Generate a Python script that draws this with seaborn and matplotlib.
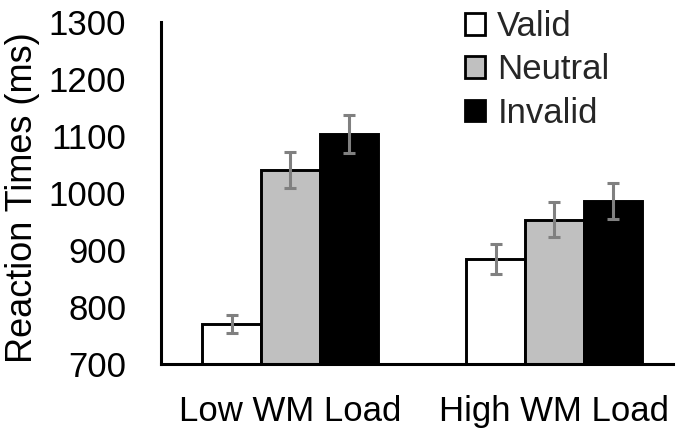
import pandas as pd
import matplotlib
matplotlib.use('Agg')
import matplotlib.pyplot as plt
from matplotlib.patches import Patch
import seaborn as sns

loads = ['Low WM Load', 'High WM Load']
cues = ['Valid', 'Neutral', 'Invalid']
rt_low = [770, 1040, 1103]
rt_high = [884, 953, 986]
se_low = [16, 32, 33]
se_high = [26, 31, 32]
cue_colors = ['#FFFFFF', '#C0C0C0', '#000000']

df = pd.DataFrame({
    'load': [loads[0]] * 3 + [loads[1]] * 3,
    'cue': cues * 2,
    'rt': rt_low + rt_high,
    'se': se_low + se_high,
})

sns.set_theme(style='white')
plt.rcParams['font.family'] = ['Liberation Sans', 'DejaVu Sans']
fs = 25

fig = plt.figure(figsize=(6.96, 4.40), dpi=100)
ax = fig.add_axes([161 / 696, 1 - 364 / 440, (673 - 161) / 696, (364 - 22) / 440])

palette = dict(zip(cues, cue_colors))
sns.barplot(data=df, x='load', y='rt', hue='cue', order=loads, hue_order=cues,
            palette=palette, edgecolor='black', linewidth=2.1, width=0.667,
            errorbar=None, legend=False, ax=ax)

# error bars (SE) on each bar
for cont, cue in zip(ax.containers, cues):
    sub = df[df['cue'] == cue].set_index('load').loc[loads]
    xs = [b.get_x() + b.get_width() / 2 for b in cont]
    ax.errorbar(xs, sub['rt'], yerr=sub['se'], fmt='none', ecolor='#808080',
                elinewidth=2.2, capsize=4, capthick=2.2, zorder=5)

ax.set_ylim(700, 1300)
ax.set_xlim(-0.49, 1.45)
ax.set_yticks(range(700, 1301, 100))
ax.set_xlabel('')
ax.set_ylabel('')
fig.text(23 / 696, 1 - 198 / 440, 'Reaction Times (ms)', rotation=90,
         ha='center', va='center', fontsize=26, color='black')

for s in ['top', 'right']:
    ax.spines[s].set_visible(False)
for s in ['left', 'bottom']:
    ax.spines[s].set_linewidth(2.2)
    ax.spines[s].set_color('black')
ax.tick_params(axis='y', direction='in', length=8.5, width=2.2, pad=25,
               labelsize=fs, colors='black')
ax.tick_params(axis='x', length=0, pad=22.5, labelsize=fs, colors='black')

handles = [Patch(facecolor=c, edgecolor='black', linewidth=2) for c in cue_colors]
fig.legend(handles, cues, loc='upper left', bbox_to_anchor=(465 / 696, 1 - 10 / 440),
           frameon=False, fontsize=fs, handlelength=0.58, handleheight=0.58,
           handletextpad=0.35, labelspacing=0.30, borderpad=0, borderaxespad=0)

fig.savefig('out.png', dpi=100)
